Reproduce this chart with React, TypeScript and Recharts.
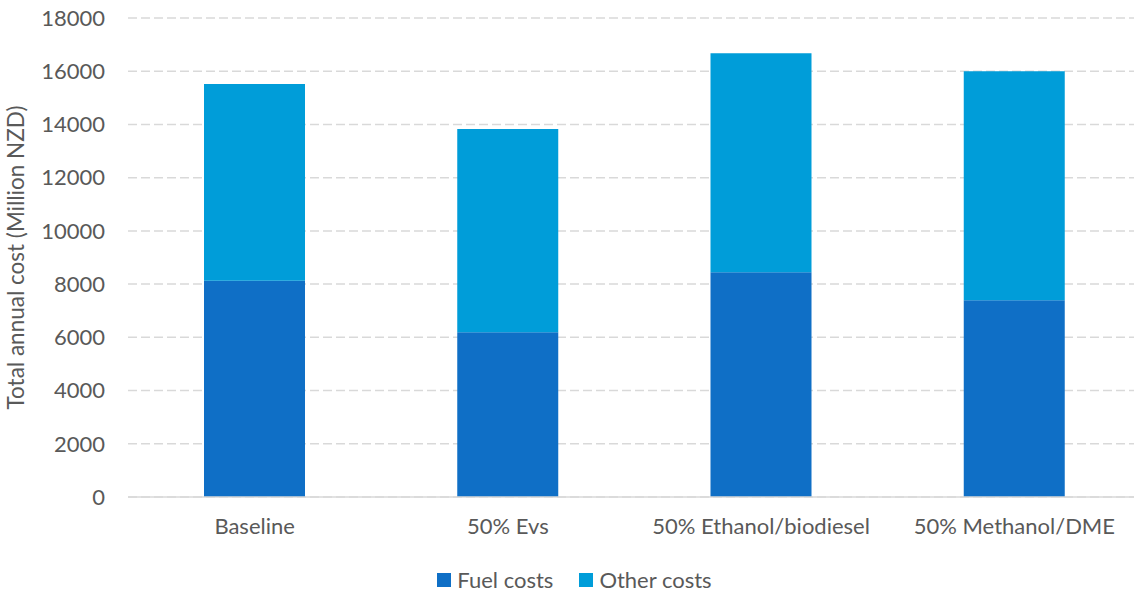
import React from 'react';
import {
  BarChart,
  Bar,
  XAxis,
  YAxis,
  CartesianGrid,
  Legend,
} from 'recharts';

// scenarios and cost split (million NZD)
const scenarios = ['Baseline', '50% Evs', '50% Ethanol/biodiesel', '50% Methanol/DME'];
const fuelCosts = [8130, 6190, 8445, 7395];
const otherCosts = [7390, 7640, 8235, 8605];
const yTicks = [0, 2000, 4000, 6000, 8000, 10000, 12000, 14000, 16000, 18000];

const FUEL = '#0F6FC6';
const OTHER = '#009DD9';
const TEXT = '#595959';
const FONT = 'Lato, "Open Sans", sans-serif';

const data = scenarios.map((name, i) => ({
  name,
  fuel: fuelCosts[i],
  other: otherCosts[i],
}));

const legendItems = [
  { label: 'Fuel costs', color: FUEL },
  { label: 'Other costs', color: OTHER },
];

function LegendContent() {
  return (
    <div
      style={{
        display: 'flex',
        justifyContent: 'center',
        gap: 26,
        fontFamily: FONT,
        fontSize: 22,
        lineHeight: '24px',
        color: TEXT,
        paddingLeft: 8,
      }}
    >
      {legendItems.map((it) => (
        <div key={it.label} style={{ display: 'flex', alignItems: 'center' }}>
          <span style={{ width: 14, height: 14, background: it.color, display: 'inline-block', marginRight: 6 }} />
          <span>{it.label}</span>
        </div>
      ))}
    </div>
  );
}

function YLabel(props: any) {
  const vb = props.viewBox || {};
  const x = 15;
  const y = vb.y + vb.height / 2;
  return (
    <text
      x={x}
      y={y}
      transform={`rotate(-90, ${x}, ${y})`}
      textAnchor="middle"
      dominantBaseline="central"
      fill={TEXT}
      fontSize={22.5}
      fontFamily={FONT}
    >
      Total annual cost (Million NZD)
    </text>
  );
}

export default function App() {
  return (
    <div style={{ position: 'absolute', left: 0, top: 0, width: 1134, height: 592, overflow: 'hidden', background: '#fff' }}>
      <BarChart
        width={1150}
        height={592}
        data={data}
        margin={{ top: 18, right: 9, left: 0, bottom: 0 }}
      >
        <CartesianGrid
          vertical={false}
          stroke="#D9D9D9"
          strokeWidth={1.5}
          strokeDasharray="9 4"
        />
        <XAxis
          dataKey="name"
          axisLine={{ stroke: '#D9D9D9', strokeWidth: 1.5 }}
          tickLine={false}
          tickSize={0}
          tickMargin={21}
          height={71}
          interval={0}
          tick={{ fill: TEXT, fontSize: 22, fontFamily: FONT }}
        />
        <YAxis
          domain={[0, 18000]}
          ticks={yTicks}
          axisLine={false}
          tickLine={false}
          tickSize={0}
          tickMargin={23}
          width={128}
          tick={{ fill: TEXT, fontSize: 22, fontFamily: FONT }}
          label={<YLabel />}
        />
        <Legend verticalAlign="bottom" height={24} content={<LegendContent />} />
        <Bar dataKey="fuel" name="Fuel costs" stackId="a" fill={FUEL} barSize={101} isAnimationActive={false} />
        <Bar dataKey="other" name="Other costs" stackId="a" fill={OTHER} barSize={101} isAnimationActive={false} />
      </BarChart>
    </div>
  );
}
